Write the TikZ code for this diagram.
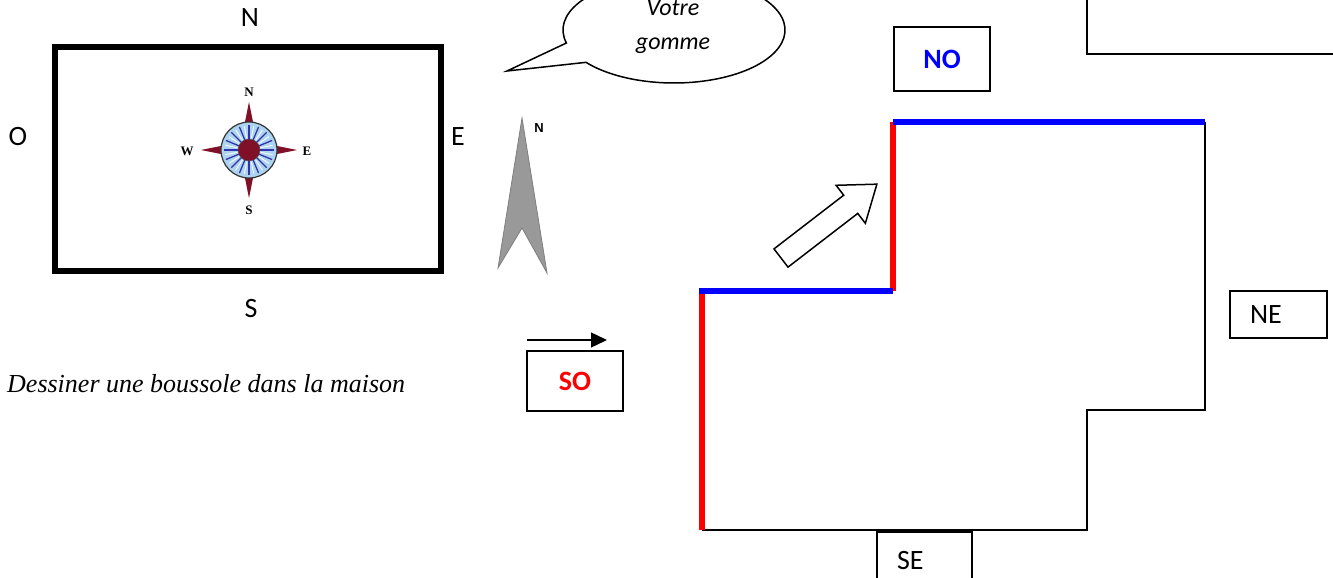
\documentclass[tikz,border=0pt]{standalone}
\usepackage{fontspec}
\setmainfont{Carlito}
\newfontfamily\romanfont{Liberation Serif}
\newfontfamily\pointfont{Liberation Sans}
\usetikzlibrary{arrows.meta}

\definecolor{rosered}{RGB}{128,16,40}
\definecolor{roseblue}{RGB}{172,212,240}

\def\wallw{6pt}
\def\bigfont{\fontsize{28}{32}\selectfont}

\begin{document}
\begin{tikzpicture}[x=1pt, y=-1pt]
    \useasboundingbox (0,0) rectangle (1333,578);
    \clip (0,0) rectangle (1333,578);

    \tikzstyle{side}=[font=\bigfont, inner sep=0pt]
    \tikzstyle{card box}=[draw, line width=2pt, inner sep=0pt, outer sep=0pt, anchor=north west, font=\bigfont]
    \tikzstyle{left card}=[card box, align=left, inner xsep=20pt]
    \tikzstyle{wall}=[line width=1.5pt]
    \tikzstyle{red wall}=[red, line width=\wallw]
    \tikzstyle{blue wall}=[blue, line width=\wallw]
    \tikzstyle{rose letter}=[font=\romanfont\bfseries\fontsize{13}{14}\selectfont, inner sep=0pt]

    % the room with its four sides
    \node[draw, line width=6pt, outer sep=0pt, minimum width=386pt, minimum height=224pt, anchor=north west] (room) at (55,47) {};
    \node[side] (n) at (250,18) {N};
    \node[side] (o) at (18,137) {O};
    \node[side] (e) at (458,137) {E};
    \node[side] (s) at (251,309) {S};

    % small compass rose
    \begin{scope}[shift={(249,150)}]
        \foreach \a in {0,90,180,270}
            \fill[rosered] (\a:48) -- (\a+10:26) -- (\a-10:26) -- cycle;
        \filldraw[fill=roseblue, draw=black!80, line width=1.2pt] (0,0) circle (28);
        \foreach \a in {0,22.5,...,337.5}
            \draw[blue!60!black!80, line width=1.3pt] (\a:11) -- (\a:25);
        \foreach \a in {11.25,33.75,...,348.75}
            \draw[white, line width=0.8pt] (\a:12) -- (\a:24);
        \filldraw[fill=rosered, draw=black!70] (0,0) circle (11);
        \node[rose letter] (rn) at (0,-58) {N};
        \node[rose letter] (rs) at (0,60) {S};
        \node[rose letter] (rw) at (-62,1) {W};
        \node[rose letter] (re) at (58,1) {E};
    \end{scope}

    % speech bubble
    \draw[line width=1.5pt, fill=white] (566.4,43) arc[start angle=165.8, end angle=502.4, x radius=111, y radius=53]
        -- (507,71) -- cycle;
    \node[font=\itshape\fontsize{24}{34}\selectfont, align=center] (gomme) at (673,27) {Votre\\gomme};

    % north arrow
    \filldraw[fill=black!40, draw=black!50, line width=0.8pt] (522,118) -- (547,273) -- (522,228) -- (498,268) -- cycle;
    \node[font=\pointfont\bfseries\fontsize{13}{14}\selectfont, inner sep=0pt] (north) at (539,128) {N};

    \node[anchor=west, font=\romanfont\itshape\fontsize{26}{30}\selectfont, inner sep=0pt] (consigne) at (7,384) {Dessiner une boussole dans la maison};

    % labelled boxes
    \node[card box, minimum width=96pt, minimum height=64pt, text=blue, font=\bigfont\bfseries] (no) at (894,27) {NO};
    \node[card box, minimum width=96pt, minimum height=60pt, text=red, font=\bigfont\bfseries] (so) at (527,351) {SO};
    \node[left card, text width=57pt, minimum height=47pt] (ne) at (1230,291) {NE};
    \node[left card, text width=55pt, minimum height=58pt] (se) at (877,532) {SE};
    \node[card box, minimum width=300pt, minimum height=120pt, anchor=south west] (corner) at (1087,54) {};

    \coordinate (so tail) at (527,340);
    \coordinate (so head) at (607,340);
    \draw[-{Triangle[length=16pt, width=15pt]}, line width=1.3pt] (so tail) -- (so head);

    % the house
    \draw[wall] (702,530) -- (1087,530) -- (1087,410) -- (1205,410) -- (1205,122);
    \draw[red wall] (702,530) -- (702,291);
    \draw[red wall] (893,291) -- (893,122);
    \draw[blue wall] (699,291) -- (893,291);
    \draw[blue wall] (893,122) -- (1205,122);

    % hollow arrow
    \begin{scope}[shift={(781,258)}, rotate=37.6]
        \draw[line width=1.5pt, fill=white] (0,-11.5) -- (88,-11.5) -- (88,-24) -- (121,0)
            -- (88,24) -- (88,11.5) -- (0,11.5) -- cycle;
    \end{scope}
\end{tikzpicture}
\end{document}
